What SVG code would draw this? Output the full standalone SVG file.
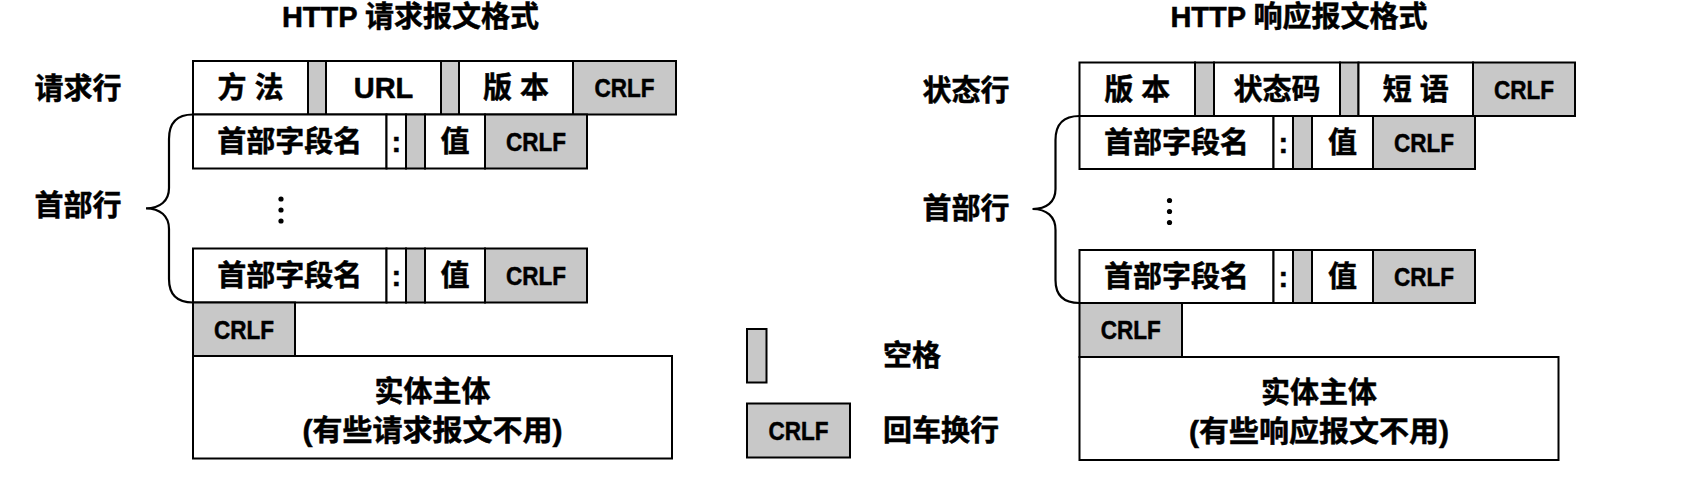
<svg xmlns="http://www.w3.org/2000/svg" width="1699" height="479" viewBox="0 0 1699 479">
<style>
.w{fill:#fff;stroke:#000;stroke-width:2}
.g{fill:#c8c8c8;stroke:#000;stroke-width:2}
.t{font-family:"Liberation Sans","Noto Sans CJK SC",sans-serif;font-weight:bold;font-size:29px;text-anchor:middle;dominant-baseline:central;fill:#000;stroke:#000;stroke-width:0.5}
.c{font-size:25px}
.br{fill:none;stroke:#000;stroke-width:2.2}
.dot{fill:#000}
</style>
<rect width="1699" height="479" fill="#fff"/>

<g id="title-req"><text class="t" x="410.5" y="16.5">HTTP 请求报文格式</text></g>
<g id="title-resp"><text class="t" x="1299" y="16.5">HTTP 响应报文格式</text></g>

<g id="label-req-line"><text class="t" x="78" y="89">请求行</text></g>
<g id="label-req-header"><text class="t" x="78" y="205.5">首部行</text></g>
<g id="label-status-line"><text class="t" x="966" y="90.5">状态行</text></g>
<g id="label-resp-header"><text class="t" x="966" y="208.5">首部行</text></g>

<g id="connectors">
<path class="br" d="M193,114.5 C178,114.5 169,122 169,139 L169,188 C169,201 160,208.3 146,208.3 C160,208.3 169,216 169,229 L169,279 C169,295 178,302.5 193,302.5"/>
<path class="br" d="M1079.5,116 C1064.5,116 1055.5,123.5 1055.5,140 L1055.5,189 C1055.5,202 1046.5,209 1032.5,209 C1046.5,209 1055.5,216.5 1055.5,230 L1055.5,280 C1055.5,296 1064.5,303 1079.5,303"/>
</g>

<g id="req-line">
<rect class="w" x="193" y="61" width="115" height="53.5"/>
<rect class="g" x="308" y="61" width="18" height="53.5"/>
<rect class="w" x="326" y="61" width="115" height="53.5"/>
<rect class="g" x="441" y="61" width="18" height="53.5"/>
<rect class="w" x="459" y="61" width="114" height="53.5"/>
<rect class="g" x="573" y="61" width="103" height="53.5"/>
<text class="t" x="250.5" y="88">方 法</text>
<text class="t" x="383.5" y="88">URL</text>
<text class="t" x="516" y="88">版 本</text>
<text class="t c" x="624.5" y="88" textLength="60" lengthAdjust="spacingAndGlyphs">CRLF</text>
</g>

<g id="req-header-1">
<rect class="w" x="193" y="114.5" width="193.5" height="54"/>
<rect class="w" x="386.5" y="114.5" width="19.5" height="54"/>
<rect class="g" x="406" y="114.5" width="19" height="54"/>
<rect class="w" x="425" y="114.5" width="60" height="54"/>
<rect class="g" x="485" y="114.5" width="102" height="54"/>
<text class="t" x="289.75" y="141.5">首部字段名</text>
<text class="t" x="396.25" y="141.5">:</text>
<text class="t" x="455" y="141.5">值</text>
<text class="t c" x="536" y="141.5" textLength="60" lengthAdjust="spacingAndGlyphs">CRLF</text>
</g>

<g id="req-dots">
<circle class="dot" cx="281" cy="199" r="2.6"/>
<circle class="dot" cx="281" cy="210" r="2.6"/>
<circle class="dot" cx="281" cy="221" r="2.6"/>
</g>

<g id="req-header-n">
<rect class="w" x="193" y="248.5" width="193.5" height="54"/>
<rect class="w" x="386.5" y="248.5" width="19.5" height="54"/>
<rect class="g" x="406" y="248.5" width="19" height="54"/>
<rect class="w" x="425" y="248.5" width="60" height="54"/>
<rect class="g" x="485" y="248.5" width="102" height="54"/>
<text class="t" x="289.75" y="275.5">首部字段名</text>
<text class="t" x="396.25" y="275.5">:</text>
<text class="t" x="455" y="275.5">值</text>
<text class="t c" x="536" y="275.5" textLength="60" lengthAdjust="spacingAndGlyphs">CRLF</text>
</g>

<g id="req-crlf">
<rect class="g" x="193" y="302.5" width="102" height="53.5"/>
<text class="t c" x="244" y="329.5" textLength="60" lengthAdjust="spacingAndGlyphs">CRLF</text>
</g>

<g id="req-body">
<rect class="w" x="193" y="356" width="479" height="102.5"/>
<text class="t" x="432.5" y="392">实体主体</text>
<text class="t" x="432.5" y="431" textLength="260" lengthAdjust="spacingAndGlyphs">(有些请求报文不用)</text>
</g>

<g id="status-line">
<rect class="w" x="1079.5" y="62.5" width="115.5" height="53.5"/>
<rect class="g" x="1195" y="62.5" width="19" height="53.5"/>
<rect class="w" x="1214" y="62.5" width="126" height="53.5"/>
<rect class="g" x="1340" y="62.5" width="18.5" height="53.5"/>
<rect class="w" x="1358.5" y="62.5" width="114.5" height="53.5"/>
<rect class="g" x="1473" y="62.5" width="102" height="53.5"/>
<text class="t" x="1137.25" y="89.5">版 本</text>
<text class="t" x="1277" y="89.5">状态码</text>
<text class="t" x="1415.75" y="89.5">短 语</text>
<text class="t c" x="1524" y="89.5" textLength="60" lengthAdjust="spacingAndGlyphs">CRLF</text>
</g>

<g id="resp-header-1">
<rect class="w" x="1079.5" y="116" width="194" height="53"/>
<rect class="w" x="1273.5" y="116" width="19.5" height="53"/>
<rect class="g" x="1293" y="116" width="19" height="53"/>
<rect class="w" x="1312" y="116" width="61" height="53"/>
<rect class="g" x="1373" y="116" width="102" height="53"/>
<text class="t" x="1176.5" y="142.5">首部字段名</text>
<text class="t" x="1283.25" y="142.5">:</text>
<text class="t" x="1342.5" y="142.5">值</text>
<text class="t c" x="1424" y="142.5" textLength="60" lengthAdjust="spacingAndGlyphs">CRLF</text>
</g>

<g id="resp-dots">
<circle class="dot" cx="1169.5" cy="200.5" r="2.6"/>
<circle class="dot" cx="1169.5" cy="211.5" r="2.6"/>
<circle class="dot" cx="1169.5" cy="222.5" r="2.6"/>
</g>

<g id="resp-header-n">
<rect class="w" x="1079.5" y="250" width="194" height="53"/>
<rect class="w" x="1273.5" y="250" width="19.5" height="53"/>
<rect class="g" x="1293" y="250" width="19" height="53"/>
<rect class="w" x="1312" y="250" width="61" height="53"/>
<rect class="g" x="1373" y="250" width="102" height="53"/>
<text class="t" x="1176.5" y="276.5">首部字段名</text>
<text class="t" x="1283.25" y="276.5">:</text>
<text class="t" x="1342.5" y="276.5">值</text>
<text class="t c" x="1424" y="276.5" textLength="60" lengthAdjust="spacingAndGlyphs">CRLF</text>
</g>

<g id="resp-crlf">
<rect class="g" x="1079.5" y="303" width="102.5" height="54"/>
<text class="t c" x="1130.75" y="330" textLength="60" lengthAdjust="spacingAndGlyphs">CRLF</text>
</g>

<g id="resp-body">
<rect class="w" x="1079.5" y="357" width="479" height="103"/>
<text class="t" x="1319" y="393">实体主体</text>
<text class="t" x="1319" y="432" textLength="260" lengthAdjust="spacingAndGlyphs">(有些响应报文不用)</text>
</g>

<g id="legend-space">
<rect class="g" x="747" y="329" width="19.5" height="53.5"/>
<text class="t" x="883" y="356" style="text-anchor:start">空格</text>
</g>

<g id="legend-crlf">
<rect class="g" x="747" y="403.5" width="103" height="54"/>
<text class="t c" x="798.5" y="430.5" textLength="60" lengthAdjust="spacingAndGlyphs">CRLF</text>
<text class="t" x="883" y="431" style="text-anchor:start">回车换行</text>
</g>
</svg>
